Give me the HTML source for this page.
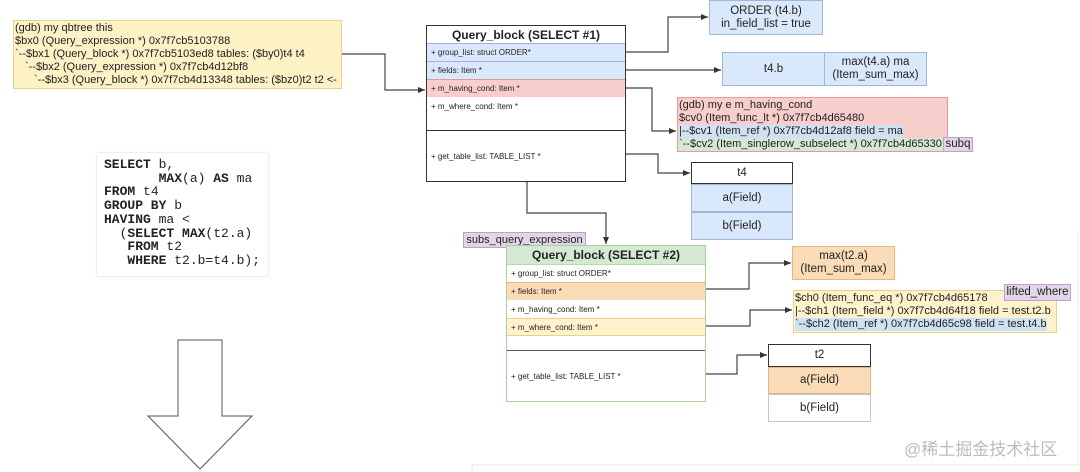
<!DOCTYPE html>
<html><head><meta charset="utf-8"><style>
body{margin:0;width:1080px;height:472px;background:#fff;position:relative;overflow:hidden;font-family:"Liberation Sans",Arial,sans-serif;color:#222}
.a{position:absolute;box-sizing:border-box}
.row{position:absolute;left:0;right:0;box-sizing:border-box;font-size:8px;padding-left:4px;display:flex;align-items:center;white-space:nowrap}
.c{display:flex;align-items:center;justify-content:center;text-align:center;font-size:11px;line-height:13px}
.gl{position:absolute;font-size:11px;white-space:nowrap;line-height:13px}
</style></head><body>

<!-- gdb top-left -->
<div class="a" style="left:13px;top:20px;width:329px;height:69px;background:#fdf1c6;border:1px solid #e6d48a"></div>
<div class="gl" style="left:15px;top:22px">(gdb) my qbtree this</div>
<div class="gl" style="left:15px;top:35px">$bx0 (Query_expression *) 0x7f7cb5103788</div>
<div class="gl" style="left:15px;top:48px">`--$bx1 (Query_block *) 0x7f7cb5103ed8 tables: ($by0)t4 t4</div>
<div class="gl" style="left:25px;top:61px">`--$bx2 (Query_expression *) 0x7f7cb4d12bf8</div>
<div class="gl" style="left:34px;top:74px">`--$bx3 (Query_block *) 0x7f7cb4d13348 tables: ($bz0)t2 t2 &lt;-</div>

<!-- SQL -->
<div class="a" style="left:97px;top:153px;width:171px;height:123px;background:#fff;box-shadow:0 0 2px #ccc"></div>
<pre class="a" style="left:104px;top:158px;margin:0;font-family:'Liberation Mono',monospace;font-size:13px;line-height:13.7px;color:#222"><b>SELECT</b> b,
       <b>MAX</b>(a) <b>AS</b> ma
<b>FROM</b> t4
<b>GROUP BY</b> b
<b>HAVING</b> ma &lt;
  (<b>SELECT MAX</b>(t2.a)
   <b>FROM</b> t2
   <b>WHERE</b> t2.b=t4.b);</pre>

<svg class="a" style="left:0;top:0" width="1080" height="472">
<defs><marker id="m" markerWidth="8" markerHeight="8" refX="7" refY="4" orient="auto" markerUnits="userSpaceOnUse"><path d="M0,1 L7,4 L0,7z" fill="#333"/></marker></defs>
<polygon points="178,340 222,340 222,416 252,416 200,469 148,416 178,416" fill="#fff" stroke="#555" stroke-width="1"/>
<g fill="none" stroke="#444" stroke-width="1.2">
<polyline points="342,54 385,54 385,90 425,90" marker-end="url(#m)"/>
<polyline points="626,52 668,52 668,17 708,17" marker-end="url(#m)"/>
<polyline points="626,70 721,70" marker-end="url(#m)"/>
<polyline points="626,88 652,88 652,131 676,131" marker-end="url(#m)"/>
<polyline points="626,154 658,154 658,173 690,173" marker-end="url(#m)"/>
<polyline points="527,182 527,213 606,213 606,244" marker-end="url(#m)"/>
<polyline points="706,289 749,289 749,263 791,263" marker-end="url(#m)"/>
<polyline points="706,326 750,326 750,310 792,310" marker-end="url(#m)"/>
<polyline points="706,374 737,374 737,355 767,355" marker-end="url(#m)"/>
</g>
<line x1="472" y1="465" x2="1080" y2="465" stroke="#e6e6e6"/>
<line x1="472" y1="465" x2="472" y2="472" stroke="#e6e6e6"/>
<line x1="1078" y1="230" x2="1078" y2="465" stroke="#eee"/>
</svg>

<!-- QB1 -->
<div class="a" style="left:426px;top:25px;width:200px;height:157px;border:1px solid #333;background:#fff">
 <div class="row" style="top:0;height:17px;justify-content:center;font-size:12px;font-weight:bold;padding:0">Query_block (SELECT #1)</div>
 <div class="row" style="top:17px;height:18px;background:#dae8fc;border-top:1px solid #9fb6d6">+ group_list: struct ORDER*</div>
 <div class="row" style="top:35px;height:18px;background:#dae8fc;border-top:1px solid #9fb6d6">+ fields: Item *</div>
 <div class="row" style="top:53px;height:18px;background:#f8cecc;border-top:1px solid #d99">+ m_having_cond: Item *</div>
 <div class="row" style="top:71px;height:33px;align-items:flex-start;padding-top:5px">+ m_where_cond: Item *</div>
 <div class="row" style="top:104px;height:52px;border-top:1px solid #333">+ get_table_list: TABLE_LIST *</div>
</div>

<div class="a c" style="left:709px;top:0;width:114px;height:35px;background:#dae8fc;border:1px solid #9fb6d6;font-size:11.5px">ORDER (t4.b)<br>in_field_list = true</div>
<div class="a c" style="left:722px;top:52px;width:103px;height:34px;background:#dae8fc;border:1px solid #9fb6d6;font-size:11.5px">t4.b</div>
<div class="a c" style="left:824px;top:52px;width:103px;height:34px;background:#dae8fc;border:1px solid #9fb6d6;font-size:11.5px">max(t4.a) ma<br>(Item_sum_max)</div>

<!-- red gdb -->
<div class="a" style="left:677px;top:97px;width:271px;height:55px;background:#f8cecc;border:1px solid #e49a98"></div>
<div class="a" style="left:679px;top:125px;width:224px;height:13px;background:#cfe2f3"></div>
<div class="a" style="left:678px;top:138px;width:265px;height:13px;background:#d5e8d4"></div>
<div class="gl" style="left:679px;top:99px">(gdb) my e m_having_cond</div>
<div class="gl" style="left:679px;top:112px">$cv0 (Item_func_lt *) 0x7f7cb4d65480</div>
<div class="gl" style="left:679px;top:125px">|--$cv1 (Item_ref *) 0x7f7cb4d12af8 field = ma</div>
<div class="gl" style="left:679px;top:138px">`--$cv2 (Item_singlerow_subselect *) 0x7f7cb4d65330</div>
<div class="a c" style="left:943px;top:137px;width:30px;height:15px;background:#e1d5e7;border:1px solid #b9a3c7;font-size:11.5px">subq</div>

<!-- t4 table -->
<div class="a c" style="left:691px;top:162px;width:102px;height:22px;background:#fff;border:1px solid #333;font-size:11.5px">t4</div>
<div class="a c" style="left:691px;top:184px;width:102px;height:28px;background:#dae8fc;border:1px solid #9fb6d6;font-size:11.5px">a(Field)</div>
<div class="a c" style="left:691px;top:212px;width:102px;height:28px;background:#dae8fc;border:1px solid #9fb6d6;font-size:11.5px">b(Field)</div>

<!-- QB2 -->
<div class="a c" style="left:463px;top:232px;width:123px;height:16px;background:#e1d5e7;border:1px solid #b9a3c7;font-size:11px">subs_query_expression</div>
<div class="a" style="left:506px;top:245px;width:200px;height:157px;border:1px solid #a6cf9b;background:#fff">
 <div class="row" style="top:0;height:18px;justify-content:center;font-size:12px;font-weight:bold;padding:0;background:#d5e8d4">Query_block (SELECT #2)</div>
 <div class="row" style="top:18px;height:18px;border-top:1px solid #b7d9ad">+ group_list: struct ORDER*</div>
 <div class="row" style="top:36px;height:18px;background:#fbdcb8;border-top:1px solid #e8b67e">+ fields: Item *</div>
 <div class="row" style="top:54px;height:18px">+ m_having_cond: Item *</div>
 <div class="row" style="top:72px;height:18px;background:#fff2cc;border-top:1px solid #e6d48a;border-bottom:1px solid #e6d48a">+ m_where_cond: Item *</div>
 <div class="row" style="top:104px;height:52px;border-top:1.5px solid #555">+ get_table_list: TABLE_LIST *</div>
</div>

<div class="a c" style="left:792px;top:246px;width:103px;height:34px;background:#fbdcb8;border:1px solid #e8b67e;font-size:11.5px">max(t2.a)<br>(Item_sum_max)</div>

<!-- yellow gdb -->
<div class="a" style="left:793px;top:290px;width:264px;height:43px;background:#fff2cc;border:1px solid #e6d48a"></div>
<div class="a" style="left:795px;top:318px;width:252px;height:13px;background:#cfe2f3"></div>
<div class="gl" style="left:795px;top:292px">$ch0 (Item_func_eq *) 0x7f7cb4d65178</div>
<div class="gl" style="left:795px;top:305px">|--$ch1 (Item_field *) 0x7f7cb4d64f18 field = test.t2.b</div>
<div class="gl" style="left:795px;top:318px">`--$ch2 (Item_ref *) 0x7f7cb4d65c98 field = test.t4.b</div>
<div class="a c" style="left:1004px;top:284px;width:67px;height:17px;background:#e1d5e7;border:1px solid #b9a3c7;font-size:11.5px">lifted_where</div>

<!-- t2 table -->
<div class="a c" style="left:768px;top:344px;width:103px;height:23px;background:#fff;border:1px solid #333;font-size:11.5px">t2</div>
<div class="a c" style="left:768px;top:367px;width:103px;height:27px;background:#fbdcb8;border:1px solid #e8b67e;font-size:11.5px">a(Field)</div>
<div class="a c" style="left:768px;top:394px;width:103px;height:28px;background:#fff;border:1px solid #b8c8de;font-size:11.5px">b(Field)</div>

<div class="a" style="left:904px;top:435px;font-size:17px;color:#bcbcbc;font-family:'Liberation Sans','Noto Sans CJK SC',sans-serif;white-space:nowrap">@稀土掘金技术社区</div>
</body></html>
